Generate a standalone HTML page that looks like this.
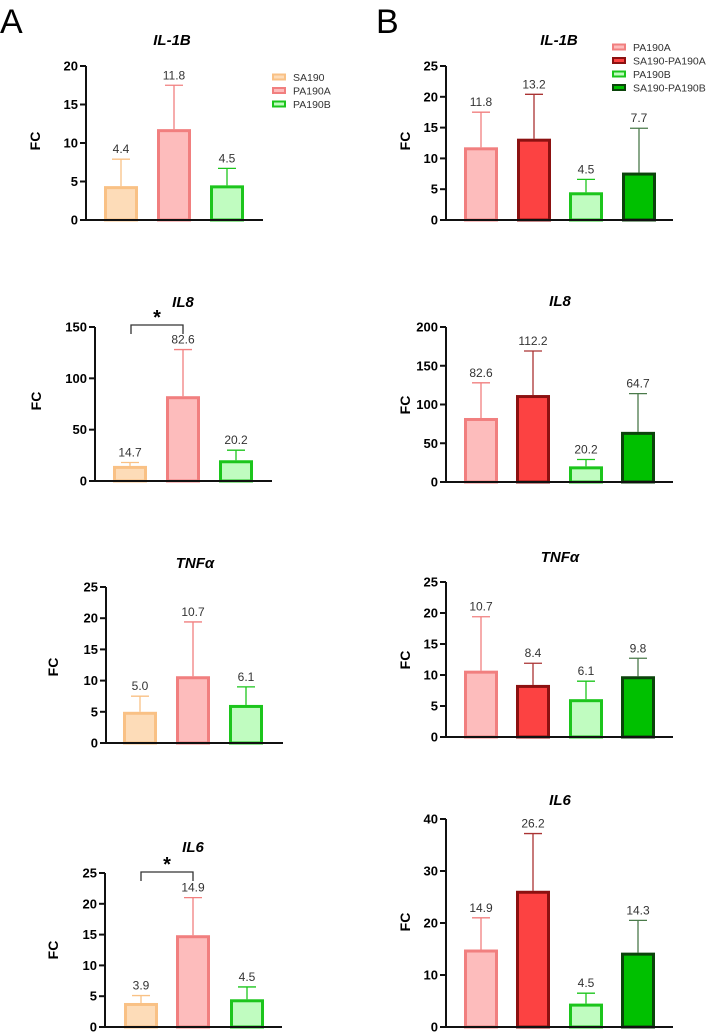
<!DOCTYPE html>
<html><head><meta charset="utf-8"><style>
html,body{margin:0;padding:0;background:#fff;}
svg{display:block;font-family:"Liberation Sans",Arial,sans-serif;}
</style></head><body>
<svg id="fig" width="708" height="1033" viewBox="0 0 708 1033">
<text x="0" y="33" font-size="34">A</text>
<text x="376" y="33" font-size="34">B</text>
</svg>
<script>
// ---- data ----
const groupsA = ["SA190","PA190A","PA190B"];
const groupsB = ["PA190A","SA190-PA190A","PA190B","SA190-PA190B"];
const il1bA = [4.4, 11.8, 4.5];      const il1bAErr = [7.9, 17.5, 6.7];
const il8A  = [14.7, 82.6, 20.2];    const il8AErr  = [18, 128, 30];
const tnfA  = [5.0, 10.7, 6.1];      const tnfAErr  = [7.5, 19.4, 9.0];
const il6A  = [3.9, 14.9, 4.5];      const il6AErr  = [5.1, 21.0, 6.5];
const il1bB = [11.8, 13.2, 4.5, 7.7];   const il1bBErr = [17.5, 20.4, 6.6, 14.9];
const il8B  = [82.6, 112.2, 20.2, 64.7];const il8BErr  = [128, 169, 29, 114];
const tnfB  = [10.7, 8.4, 6.1, 9.8];    const tnfBErr  = [19.4, 11.9, 9.0, 12.7];
const il6B  = [14.9, 26.2, 4.5, 14.3];  const il6BErr  = [21.0, 37.2, 6.5, 20.5];
const ticks25 = [0,5,10,15,20,25];
const ticks20 = [0,5,10,15,20];
const ticks150 = [0,50,100,150];
const ticks200 = [0,50,100,150,200];
const ticks40 = [0,10,20,30,40];

const style = {
 "SA190":{fill:"#fddcb8",stroke:"#f9c185",err:"#f9c185"},
 "PA190A":{fill:"#fdbcbc",stroke:"#f17f7f",err:"#f17f7f"},
 "SA190-PA190A":{fill:"#fc4242",stroke:"#8c1111",err:"#a33"},
 "PA190B":{fill:"#c0fcc0",stroke:"#1cc51c",err:"#1cc51c"},
 "SA190-PA190B":{fill:"#00c000",stroke:"#0b440b",err:"#4a7a4a"}
};
const svg = document.getElementById('fig');
const NS = "http://www.w3.org/2000/svg";
function mk(tag, attrs, parent){const e=document.createElementNS(NS,tag);for(const k in attrs)e.setAttribute(k,attrs[k]);(parent||svg).appendChild(e);return e;}

function chart(o){
  const g = mk('g',{});
  
  
  const max = o.ticks[o.ticks.length-1];
  const y = v => o.y0 - (o.y0 - o.yTop) * v / max;
  const t = mk('text',{x:o.tx,y:o.ty,'font-size':15,'font-weight':'bold','font-style':'italic','text-anchor':'middle'},g);
  t.textContent = o.title;
  
  
  const f = mk('text',{x:0,y:0,'font-size':14,'font-weight':'bold','text-anchor':'middle',transform:`translate(${o.fcx},${o.fcy}) rotate(-90)`},g);
  f.textContent = "FC";
  
  
  o.vals.forEach((v,i)=>{
    const s = style[o.groups[i]];
    const x0 = o.bx[i], w = o.bw;
    const cx = x0 + w/2;
    const el = mk('line',{x1:cx,x2:cx,y1:y(v),y2:y(o.errs[i]),stroke:s.err,'stroke-width':1.3},g);
    
    
    const cap = mk('line',{x1:cx-9,x2:cx+9,y1:y(o.errs[i]),y2:y(o.errs[i]),stroke:s.err,'stroke-width':1.3},g);
    
    
    const r = mk('rect',{x:x0+1.5,y:y(v)+1.5,width:w-3,height:Math.max(0,o.y0-y(v)-1.5),fill:s.fill,stroke:s.stroke,'stroke-width':3},g);
    
    
    const lb = mk('text',{x:cx,y:y(o.errs[i])-6,'font-size':12,'text-anchor':'middle',fill:'#333'},g);
    lb.textContent = v.toFixed(1);
    
    
  });
  const ya = mk('line',{x1:o.ax,x2:o.ax,y1:o.yTop,y2:o.y0+1,stroke:'#111','stroke-width':2},g);
  
  
  const xa = mk('line',{x1:o.ax-1,x2:o.axEnd,y1:o.y0,y2:o.y0,stroke:'#111','stroke-width':2},g);
  
  
  o.ticks.forEach(tv=>{
    const tk = mk('line',{x1:o.ax-6,x2:o.ax,y1:y(tv),y2:y(tv),stroke:'#111','stroke-width':2},g);
    
    
    const tl = mk('text',{x:o.ax-8,y:y(tv)+4.5,'font-size':13,'font-weight':'bold','text-anchor':'end'},g);
    tl.textContent = tv;
    
    
  });
  if (o.sig){
    const b = mk('path',{d:`M${o.sig[0]},${o.sig[2]+9}V${o.sig[2]}H${o.sig[1]}V${o.sig[2]+9}`,fill:'none',stroke:'#333','stroke-width':1.3},g);
    
    
    const st = mk('text',{x:(o.sig[0]+o.sig[1])/2,y:o.sig[2]-1,'font-size':20,'font-weight':'bold','text-anchor':'middle'},g);
    st.textContent = "*";
    
    
  }
}
function legend(groups,x,y0,dy,name){
  const g = mk('g',{});
  
  
  groups.forEach((gr,i)=>{
    const s = style[gr]; const yy = y0 + i*dy;
    const r = mk('rect',{x:x+1,y:yy-2.5,width:12,height:5,fill:s.fill,stroke:s.stroke,'stroke-width':2},g);
    
    
    const t = mk('text',{x:x+21,y:yy+4,'font-size':10.5,fill:'#333'},g);
    t.textContent = gr;
    
    
  });
}
const bwA = 34, bwB = 34;
chart({name:'chart-a-il1b',title:'IL-1B',tx:172,ty:45,fcx:40,fcy:141,ax:86,axEnd:263,y0:220,yTop:66,ticks:ticks20,groups:groupsA,vals:il1bA,errs:il1bAErr,bx:[104,157,210],bw:bwA});
chart({name:'chart-a-il8',title:'IL8',tx:183,ty:307,fcx:41,fcy:401,ax:95,axEnd:272,y0:481,yTop:327,ticks:ticks150,groups:groupsA,vals:il8A,errs:il8AErr,bx:[113,166,219],bw:bwA,sig:[131,183,325]});
chart({name:'chart-a-tnf',title:'TNF\u03B1',tx:195,ty:568,fcx:58,fcy:667,ax:106,axEnd:283,y0:743,yTop:587,ticks:ticks25,groups:groupsA,vals:tnfA,errs:tnfAErr,bx:[123,176,229],bw:bwA});
chart({name:'chart-a-il6',title:'IL6',tx:193,ty:852,fcx:58,fcy:950,ax:105,axEnd:282,y0:1027,yTop:873,ticks:ticks25,groups:groupsA,vals:il6A,errs:il6AErr,bx:[124,176,230],bw:bwA,sig:[141,193,872]});
chart({name:'chart-b-il1b',title:'IL-1B',tx:559,ty:45,fcx:410,fcy:141,ax:446,axEnd:673,y0:220,yTop:66,ticks:ticks25,groups:groupsB,vals:il1bB,errs:il1bBErr,bx:[464,517,569,622],bw:bwB});
chart({name:'chart-b-il8',title:'IL8',tx:560,ty:306,fcx:410,fcy:405,ax:446,axEnd:673,y0:482,yTop:327,ticks:ticks200,groups:groupsB,vals:il8B,errs:il8BErr,bx:[464,516,569,621],bw:bwB});
chart({name:'chart-b-tnf',title:'TNF\u03B1',tx:560,ty:562,fcx:410,fcy:660,ax:446,axEnd:673,y0:737,yTop:582,ticks:ticks25,groups:groupsB,vals:tnfB,errs:tnfBErr,bx:[464,516,569,621],bw:bwB});
chart({name:'chart-b-il6',title:'IL6',tx:560,ty:805,fcx:410,fcy:922,ax:446,axEnd:673,y0:1027,yTop:819,ticks:ticks40,groups:groupsB,vals:il6B,errs:il6BErr,bx:[464,516,569,621],bw:bwB});
legend(groupsA,272,77,13.5,'legend-a');
legend(groupsB,612,47,13.5,'legend-b');
</script>
</body></html>
